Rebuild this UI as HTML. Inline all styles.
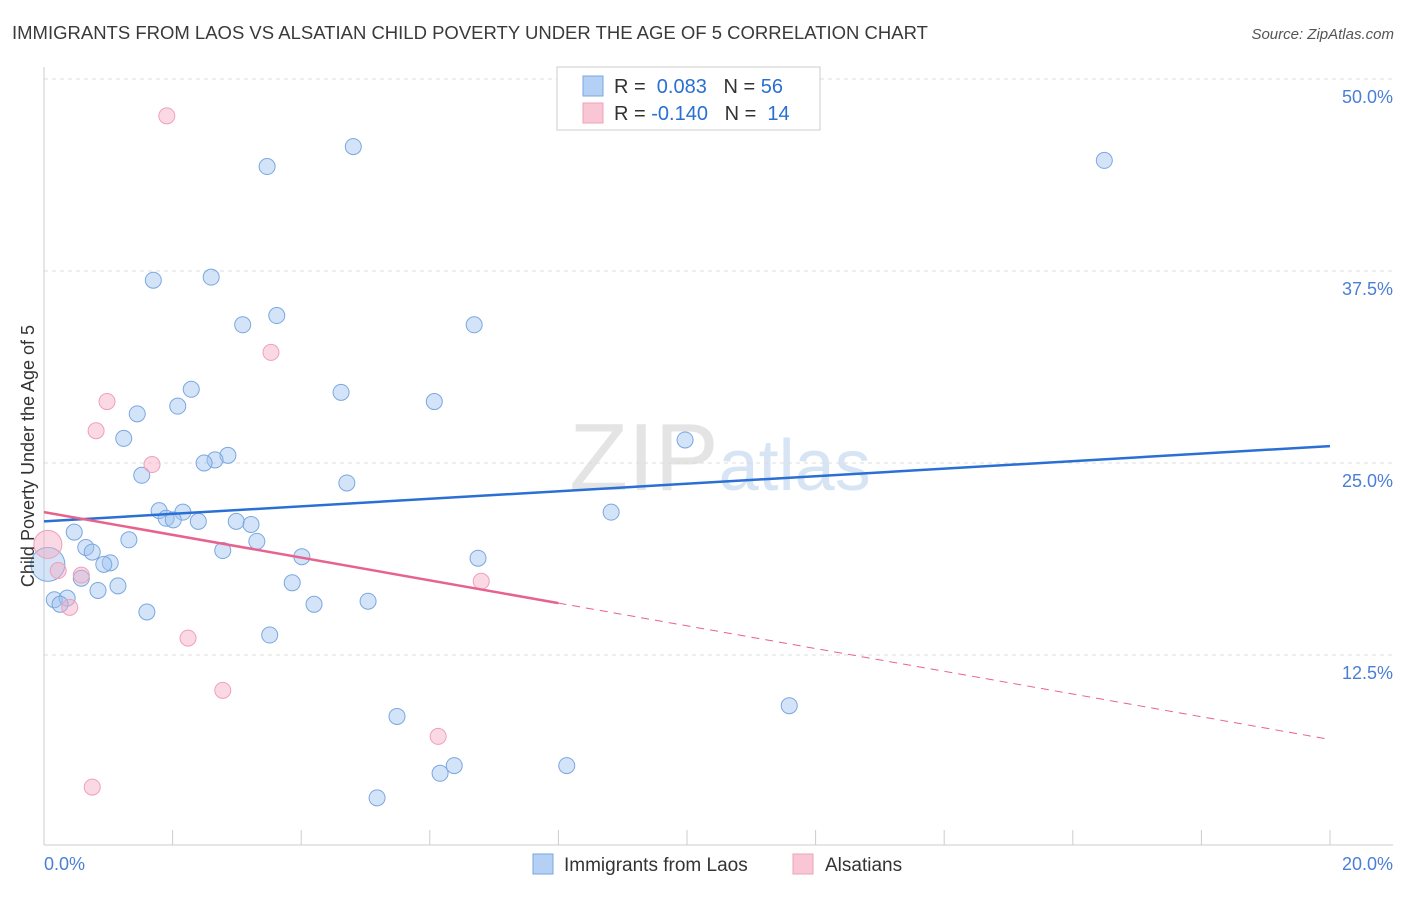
<!DOCTYPE html>
<html><head><meta charset="utf-8">
<style>
body{margin:0;background:#fff;font-family:"Liberation Sans",sans-serif;}
svg text{font-family:"Liberation Sans",sans-serif;}
</style></head>
<body>
<svg id="chart" width="1406" height="892" xmlns="http://www.w3.org/2000/svg">
<text x="12" y="39" font-size="18.5" fill="#3a3a3a">IMMIGRANTS FROM LAOS VS ALSATIAN CHILD POVERTY UNDER THE AGE OF 5 CORRELATION CHART</text>
<text x="1394" y="39" font-size="15" fill="#555" text-anchor="end" font-style="italic">Source: ZipAtlas.com</text>
<text x="720" y="490" font-size="96" fill="#e4e4e4" text-anchor="middle" font-family="Liberation Serif">ZIP<tspan fill="#d6e4f4" font-family="Liberation Sans" font-size="72">atlas</tspan></text>
<g id="grid"></g>
<g id="axes"></g>
<g id="points"></g>
<g id="trends"></g>
<text transform="translate(34,456) rotate(-90)" font-size="18" fill="#333" text-anchor="middle">Child Poverty Under the Age of 5</text>
<g>
<rect x="557" y="67" width="263" height="63" fill="#fff" stroke="#ccc"/>
<rect x="583" y="76" width="20" height="20" fill="#b4d0f4" stroke="#7aa7e0"/>
<text x="614" y="93" font-size="20" fill="#333">R = <tspan fill="#2a6fd4">&#160;0.083</tspan><tspan fill="#333">&#160;&#160;&#160;N = </tspan><tspan fill="#2a6fd4">56</tspan></text>
<rect x="583" y="103" width="20" height="20" fill="#f9c6d6" stroke="#f0a0b8"/>
<text x="614" y="120" font-size="20" fill="#333">R = <tspan fill="#2a6fd4">-0.140</tspan><tspan fill="#333">&#160;&#160;&#160;N = </tspan><tspan fill="#2a6fd4">&#160;14</tspan></text>
</g>
<g>
<rect x="533" y="854" width="20" height="20" fill="#b4d0f4" stroke="#7aa7e0"/>
<text x="564" y="871" font-size="19" fill="#333">Immigrants from Laos</text>
<rect x="793" y="854" width="20" height="20" fill="#f9c6d6" stroke="#f0a0b8"/>
<text x="825" y="871" font-size="19" fill="#333">Alsatians</text>
</g>
</svg>
<script>
const blueX=[3.47,4.81,16.49,1.70,2.60,3.09,3.62,6.69,2.29,1.45,2.08,4.62,6.07,1.24,9.97,2.86,2.66,2.49,1.52,4.71,1.79,2.16,1.90,2.01,2.40,2.99,3.22,0.47,1.32,3.31,0.65,0.75,2.78,4.01,6.75,1.03,0.93,0.58,1.15,0.84,3.86,8.82,0.16,0.36,0.25,1.60,4.20,5.04,3.51,5.49,11.59,6.38,6.16,8.13,5.18,0.06];
const blueY=[44.3,45.6,44.7,36.9,37.1,34.0,34.6,34.0,29.8,28.2,28.7,29.6,29.0,26.6,26.5,25.5,25.2,25.0,24.2,23.7,21.9,21.8,21.4,21.3,21.2,21.2,21.0,20.5,20.0,19.9,19.5,19.2,19.3,18.9,18.8,18.5,18.4,17.5,17.0,16.7,17.2,21.8,16.1,16.2,15.8,15.3,15.8,16.0,13.8,8.5,9.2,5.3,4.8,5.3,3.2,18.4];
const pinkX=[1.91,3.53,0.98,0.81,1.68,0.06,0.22,0.58,0.40,6.80,2.24,2.78,6.13,0.75];
const pinkY=[47.6,32.2,29.0,27.1,24.9,19.7,18.0,17.7,15.6,17.3,13.6,10.2,7.2,3.9];
const yTicks=[12.5,25.0,37.5,50.0];
const xTickLabels=["0.0%","20.0%"];
const blueTrend=[21.2,26.1];
const pinkTrend=[21.8,7.0];
const pinkSolidEnd=8;

const NS="http://www.w3.org/2000/svg";
const X=v=>44+v*64.3, Y=v=>847-v*15.36;
function mk(tag,attrs,parent){const e=document.createElementNS(NS,tag);for(const k in attrs)e.setAttribute(k,attrs[k]);document.getElementById(parent).appendChild(e);return e;}
yTicks.forEach(t=>{
 const l=mk('line',{x1:44,x2:1393,y1:Y(t),y2:Y(t),stroke:'#ddd','stroke-dasharray':'4,4'},'grid');
 
 
 const tx=mk('text',{x:1393,y:Y(t)+24,'font-size':18,fill:'#4a7fd6','text-anchor':'end'},'grid');
 tx.textContent=t.toFixed(1)+'%';
 
 
});
const ax=mk('line',{x1:44,x2:1393,y1:845,y2:845,stroke:'#ccc'},'axes');


const ay=mk('line',{x1:44,x2:44,y1:67,y2:845,stroke:'#ccc'},'axes');


for(let i=0;i<=10;i++){
 const t=mk('line',{x1:X(i*2),x2:X(i*2),y1:830,y2:845,stroke:'#ccc'},'axes');
 
 
}
[[0,'start',44],[20,'end',1393]].forEach((d,i)=>{
 const tx=mk('text',{x:d[2],y:870,'font-size':18,fill:'#4a7fd6','text-anchor':d[1]},'axes');
 tx.textContent=xTickLabels[i];
 
 
});
blueX.forEach((v,i)=>{
 const big=i===blueX.length-1;
 const c=mk('circle',{cx:X(v),cy:Y(blueY[i]),r:big?17:8,fill:'rgba(160,196,240,0.45)',stroke:'#7aa7e0','stroke-width':1},'points');
 
 
});
pinkX.forEach((v,i)=>{
 const big=i===5;
 const c=mk('circle',{cx:X(v),cy:Y(pinkY[i]),r:big?14:8,fill:'rgba(245,170,195,0.45)',stroke:'#f0a0b8','stroke-width':1},'points');
 
 
});
const bl=mk('line',{x1:X(0),y1:Y(blueTrend[0]),x2:X(20),y2:Y(blueTrend[1]),stroke:'#2a6fd4','stroke-width':2.5},'trends');


const pAt=x=>pinkTrend[0]+(pinkTrend[1]-pinkTrend[0])*x/20;
const pl=mk('line',{x1:X(0),y1:Y(pinkTrend[0]),x2:X(pinkSolidEnd),y2:Y(pAt(pinkSolidEnd)),stroke:'#e8628e','stroke-width':2.5},'trends');


const pd=mk('line',{x1:X(pinkSolidEnd),y1:Y(pAt(pinkSolidEnd)),x2:X(20),y2:Y(pinkTrend[1]),stroke:'#e8628e','stroke-width':1,'stroke-dasharray':'8,6'},'trends');


</script>
</body></html>
